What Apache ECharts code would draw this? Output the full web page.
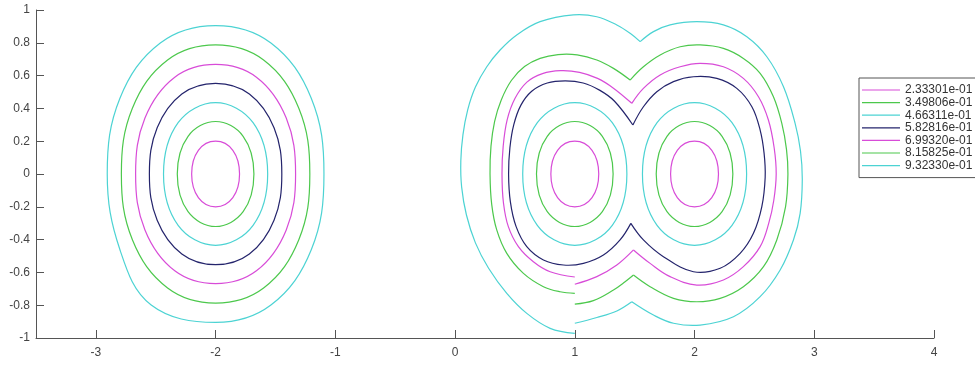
<!DOCTYPE html>
<html>
<head>
<meta charset="utf-8">
<script src="https://cdn.jsdelivr.net/npm/echarts@6/dist/echarts.min.js"></script>
<style>
  html, body { margin: 0; padding: 0; background: #fff; }
  #chart { width: 975px; height: 365px; }
</style>
</head>
<body>
<div id="chart"></div>
<script>
// Contour levels and their line colours
const levelNames = ['2.33301e-01', '3.49806e-01', '4.66311e-01', '5.82816e-01',
                    '6.99320e-01', '8.15825e-01', '9.32330e-01'];
const levelColors = ['#d84cd8', '#4cc84c', '#4cd3d3', '#24246c',
                     '#d84cd8', '#4cc84c', '#4cd3d3'];

// Tick values
const xTicks = [-3, -2, -1, 0, 1, 2, 3, 4];
const yTicks = [-1, -0.8, -0.6, -0.4, -0.2, 0, 0.2, 0.4, 0.6, 0.8, 1];

// Closed rings around x = -2
const loopW1 = [[-1.8,0],[-1.856,0.144],[-2,0.2],[-2.144,0.144],[-2.2,0],[-2.144,-0.144],[-2,-0.2],[-1.856,-0.144]];
const loopW2 = [[-1.68,0],[-1.77,0.23],[-2,0.32],[-2.23,0.23],[-2.32,0],[-2.23,-0.23],[-2,-0.32],[-1.77,-0.23]];
const loopW3 = [[-1.565,0],[-1.687,0.313],[-2,0.435],[-2.313,0.313],[-2.435,0],[-2.313,-0.313],[-2,-0.435],[-1.687,-0.313]];
const loopW4 = [[-1.447,0],[-1.512,0.282],[-1.718,0.488],[-2,0.553],[-2.282,0.488],[-2.488,0.282],[-2.553,0],[-2.488,-0.282],[-2.282,-0.488],[-2,-0.553],[-1.718,-0.488],[-1.512,-0.282]];
const loopW5 = [[-1.332,0],[-1.41,0.341],[-1.659,0.59],[-2,0.668],[-2.341,0.59],[-2.59,0.341],[-2.668,0],[-2.59,-0.341],[-2.341,-0.59],[-2,-0.668],[-1.659,-0.59],[-1.41,-0.341]];
const loopW6 = [[-1.213,0],[-1.305,0.401],[-1.599,0.695],[-2,0.787],[-2.401,0.695],[-2.695,0.401],[-2.787,0],[-2.695,-0.401],[-2.401,-0.695],[-2,-0.787],[-1.599,-0.695],[-1.305,-0.401]];
const loopW7 = [[-1.095,0],[-1.201,0.462],[-1.538,0.799],[-2,0.905],[-2.462,0.799],[-2.799,0.462],[-2.905,0],[-2.799,-0.462],[-2.538,-0.799],[-2,-0.905],[-1.538,-0.799],[-1.201,-0.462]];

// Closed rings around x = 1
const loopA1 = [[1.2,0],[1.144,0.144],[1,0.2],[0.856,0.144],[0.8,0],[0.856,-0.144],[1,-0.2],[1.144,-0.144]];
const loopA2 = [[1.32,0],[1.23,0.23],[1,0.32],[0.77,0.23],[0.68,0],[0.77,-0.23],[1,-0.32],[1.23,-0.23]];
const loopA3 = [[1.435,0],[1.313,0.313],[1,0.435],[0.687,0.313],[0.565,0],[0.687,-0.313],[1,-0.435],[1.313,-0.313]];

// Closed rings around x = 2
const loopB1 = [[2.2,0],[2.144,0.144],[2,0.2],[1.856,0.144],[1.8,0],[1.856,-0.144],[2,-0.2],[2.144,-0.144]];
const loopB2 = [[2.32,0],[2.23,0.23],[2,0.32],[1.77,0.23],[1.68,0],[1.77,-0.23],[2,-0.32],[2.23,-0.23]];
const loopB3 = [[2.435,0],[2.313,0.313],[2,0.435],[1.687,0.313],[1.565,0],[1.687,-0.313],[2,-0.435],[2.313,-0.313]];

// Merged contours around both x = 1 and x = 2 (split at cusps and at the seam on x = 1)
const lobe4Left = [[1.468,-0.301],[1.378,-0.402],[1.239,-0.494],[1.072,-0.545],[0.905,-0.555],[0.738,-0.524],[0.599,-0.443],[0.51,-0.321],[0.462,-0.17],[0.447,0],[0.458,0.16],[0.49,0.3],[0.55,0.42],[0.64,0.505],[0.77,0.555],[0.92,0.568],[1.07,0.555],[1.21,0.51],[1.33,0.445],[1.485,0.299]];
const lobe4Right = [[1.485,0.299],[1.573,0.41],[1.685,0.502],[1.824,0.563],[1.991,0.593],[2.186,0.583],[2.353,0.522],[2.479,0.41],[2.548,0.268],[2.581,0.126],[2.59,-0.02],[2.562,-0.199],[2.492,-0.362],[2.381,-0.484],[2.214,-0.575],[1.991,-0.596],[1.74,-0.504],[1.573,-0.402],[1.468,-0.301]];

const lobe5Left = [[1.0,-0.628],[0.794,-0.596],[0.654,-0.535],[0.529,-0.443],[0.445,-0.321],[0.404,-0.175],[0.392,0],[0.402,0.17],[0.435,0.33],[0.5,0.46],[0.6,0.56],[0.73,0.612],[0.88,0.63],[1.04,0.62],[1.19,0.583],[1.32,0.525],[1.476,0.431]];
const lobe5Right = [[1.476,0.431],[1.573,0.522],[1.713,0.604],[1.88,0.654],[2.047,0.675],[2.241,0.654],[2.408,0.583],[2.534,0.471],[2.617,0.329],[2.665,0.16],[2.682,0],[2.662,-0.16],[2.62,-0.3],[2.548,-0.443],[2.408,-0.565],[2.241,-0.646],[2.019,-0.677],[1.796,-0.626],[1.629,-0.545],[1.49,-0.463]];
const tail5 = [[1.49,-0.463],[1.351,-0.555],[1.184,-0.626],[1.0,-0.672]];

const lobe6Left = [[1.0,-0.728],[0.877,-0.718],[0.738,-0.687],[0.571,-0.606],[0.432,-0.484],[0.348,-0.341],[0.306,-0.185],[0.292,0],[0.3,0.17],[0.33,0.32],[0.385,0.45],[0.47,0.57],[0.58,0.655],[0.71,0.705],[0.86,0.728],[1.02,0.726],[1.184,0.695],[1.323,0.644],[1.462,0.573]];
const lobe6Right = [[1.462,0.573],[1.573,0.654],[1.713,0.726],[1.88,0.776],[2.047,0.787],[2.241,0.766],[2.408,0.705],[2.548,0.614],[2.659,0.471],[2.729,0.309],[2.768,0.15],[2.78,0],[2.76,-0.2],[2.687,-0.402],[2.576,-0.565],[2.408,-0.687],[2.214,-0.758],[2.019,-0.779],[1.824,-0.758],[1.629,-0.687],[1.49,-0.616]];
const tail6 = [[1.49,-0.616],[1.42,-0.657],[1.323,-0.707],[1.155,-0.772],[1.0,-0.793]];

const lobe7Left = [[1.0,-0.972],[0.794,-0.941],[0.599,-0.85],[0.432,-0.728],[0.28,-0.575],[0.17,-0.42],[0.095,-0.25],[0.055,-0.08],[0.048,0.08],[0.066,0.24],[0.105,0.39],[0.17,0.53],[0.265,0.654],[0.376,0.756],[0.515,0.848],[0.71,0.929],[0.988,0.97],[1.184,0.959],[1.351,0.909],[1.462,0.858],[1.546,0.807]];
const lobe7Right = [[1.546,0.807],[1.657,0.868],[1.796,0.909],[2.019,0.929],[2.241,0.909],[2.437,0.837],[2.604,0.715],[2.743,0.532],[2.84,0.309],[2.885,0.14],[2.9,-0.03],[2.882,-0.24],[2.826,-0.402],[2.715,-0.585],[2.548,-0.748],[2.325,-0.87],[2.047,-0.921],[1.824,-0.91],[1.657,-0.86],[1.476,-0.779]];
const tail7 = [[1.476,-0.779],[1.351,-0.835],[1.184,-0.875],[1.0,-0.91]];

// Paths grouped by level; closed = ring, otherwise an open piece
const ring = pts => ({ closed: true, pts });
const piece = pts => ({ closed: false, pts });
const levelPaths = [
  [ring(loopW1), ring(loopA1), ring(loopB1)],
  [ring(loopW2), ring(loopA2), ring(loopB2)],
  [ring(loopW3), ring(loopA3), ring(loopB3)],
  [ring(loopW4), piece(lobe4Left), piece(lobe4Right)],
  [ring(loopW5), piece(lobe5Left), piece(lobe5Right), piece(tail5)],
  [ring(loopW6), piece(lobe6Left), piece(lobe6Right), piece(tail6)],
  [ring(loopW7), piece(lobe7Left), piece(lobe7Right), piece(tail7)]
];

const FONT = 'Liberation Sans, Arial, sans-serif';
const axisGrey = '#555';

const chart = echarts.init(document.getElementById('chart'), null, { renderer: 'canvas' });

const series = levelNames.map((name, li) => ({
  type: 'custom',
  name: name,
  coordinateSystem: 'cartesian2d',
  silent: true,
  clip: false,
  itemStyle: { color: levelColors[li] },
  data: levelPaths[li].map(p => [p.pts[0][0], p.pts[0][1]]),
  renderItem: (params, api) => {
    const path = levelPaths[li][params.dataIndex];
    const pts = path.pts.map(p => api.coord(p));
    return {
      type: path.closed ? 'polygon' : 'polyline',
      shape: { points: pts, smooth: 0.38 },
      style: { fill: 'none', stroke: levelColors[li], lineWidth: 1.2 }
    };
  }
}));

chart.setOption({
  animation: false,
  backgroundColor: '#fff',
  grid: { left: 36, right: 41, top: 10, bottom: 27 },
  xAxis: {
    type: 'value', min: -3.5, max: 4,
    axisLine: { show: true, onZero: false, lineStyle: { color: axisGrey, width: 1 } },
    axisTick: { show: true, inside: true, length: 8, customValues: xTicks, lineStyle: { color: axisGrey } },
    axisLabel: { customValues: xTicks, color: '#444', fontSize: 12, fontFamily: FONT, margin: 9 },
    splitLine: { show: false }
  },
  yAxis: {
    type: 'value', min: -1, max: 1,
    axisLine: { show: true, onZero: false, lineStyle: { color: axisGrey, width: 1 } },
    axisTick: { show: true, inside: true, length: 8, customValues: yTicks, lineStyle: { color: axisGrey } },
    axisLabel: {
      customValues: yTicks, color: '#444', fontSize: 12, fontFamily: FONT, margin: 6,
      formatter: v => String(+Number(v).toFixed(1))
    },
    splitLine: { show: false }
  },
  legend: {
    orient: 'vertical', left: 859, top: 78,
    padding: [6, 6, 6, 3],
    itemWidth: 38, itemHeight: 1.2, itemGap: 0.6,
    icon: 'rect',
    backgroundColor: '#fff', borderColor: '#555', borderWidth: 1,
    textStyle: { fontSize: 12, lineHeight: 12, color: '#333', fontFamily: FONT },
    data: levelNames
  },
  series: series
});
</script>
</body>
</html>
